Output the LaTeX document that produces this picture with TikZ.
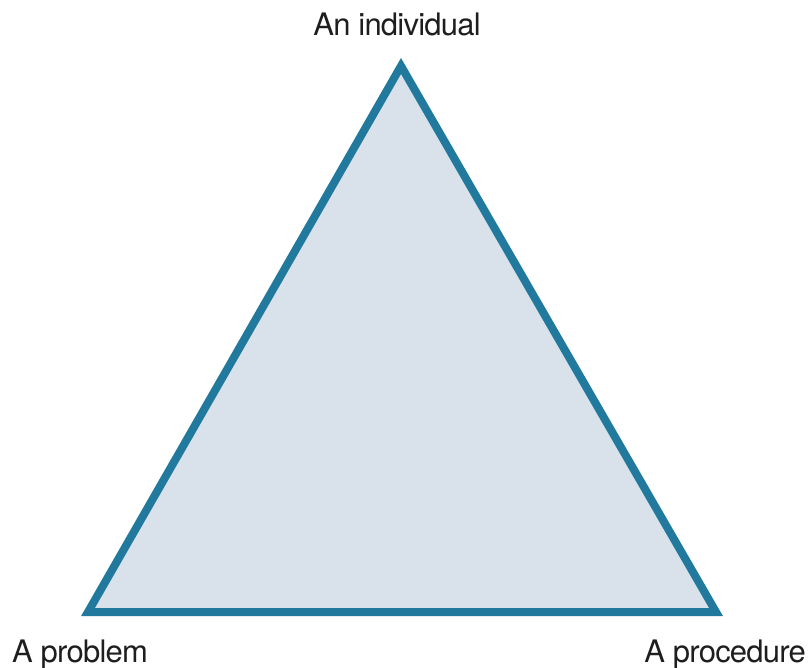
\documentclass[tikz,border=0pt]{standalone}
\usepackage{fontspec}
\setmainfont{TeX Gyre Heros}[LetterSpace=-2.5]
\definecolor{edgeblue}{HTML}{217A9E}
\definecolor{fillgray}{HTML}{D9E2EB}
\definecolor{txt}{HTML}{1E1E1E}
\begin{document}
\begin{tikzpicture}[x=1pt,y=-1pt,
  lbl/.style={inner sep=0pt,font=\fontsize{31}{36}\selectfont,text=txt}]
\useasboundingbox (0,0) rectangle (811,668);
\coordinate (T) at (401,66);
\coordinate (L) at (88,612);
\coordinate (R) at (716,612);
\filldraw[fill=fillgray,draw=edgeblue,line width=8pt,line join=miter] (T) -- (L) -- (R) -- cycle;
\node[lbl,anchor=base] (ti) at (397,36) {An individual};
\node[lbl,anchor=base west] (tl) at (12,662) {A problem};
\node[lbl,anchor=base east] (tr) at (806,662) {A procedure};
\end{tikzpicture}
\end{document}
